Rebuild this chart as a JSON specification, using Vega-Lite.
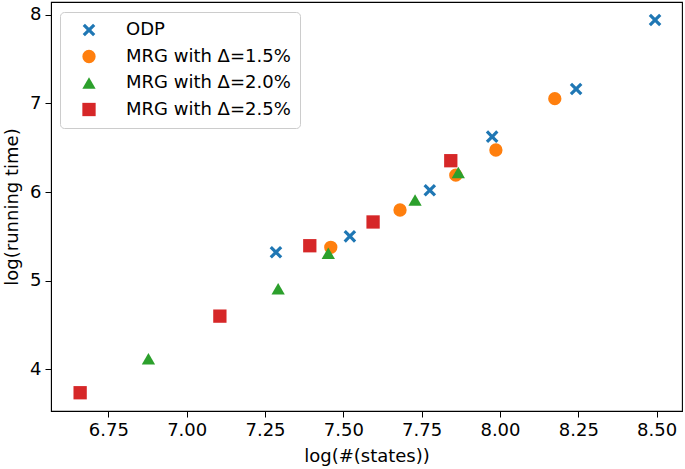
{
  "$schema": "https://vega.github.io/schema/vega-lite/v6.json",
  "width": 631,
  "height": 409,
  "autosize": "none",
  "padding": {"left": 51, "top": 2, "right": 3, "bottom": 58},
  "background": "white",
  "config": {
    "view": {"stroke": "black", "strokeWidth": 1.1},
    "font": "DejaVu Sans",
    "axis": {
      "grid": false,
      "domainColor": "black",
      "tickColor": "black",
      "labelColor": "black",
      "titleColor": "black",
      "labelFontSize": 18,
      "titleFontSize": 18,
      "titleFontWeight": "normal",
      "tickSize": 6,
      "labelPadding": 4,
      "labelFont": "DejaVu Sans",
      "titleFont": "DejaVu Sans"
    }
  },
  "data": {
    "values": [
      {"x": 7.285, "y": 5.32, "series": "ODP"},
      {"x": 7.521, "y": 5.50, "series": "ODP"},
      {"x": 7.776, "y": 6.02, "series": "ODP"},
      {"x": 7.975, "y": 6.624, "series": "ODP"},
      {"x": 8.243, "y": 7.162, "series": "ODP"},
      {"x": 8.495, "y": 7.94, "series": "ODP"},
      {"x": 7.46, "y": 5.376, "series": "MRG with Δ=1.5%"},
      {"x": 7.681, "y": 5.797, "series": "MRG with Δ=1.5%"},
      {"x": 7.859, "y": 6.19, "series": "MRG with Δ=1.5%"},
      {"x": 7.987, "y": 6.474, "series": "MRG with Δ=1.5%"},
      {"x": 8.175, "y": 7.053, "series": "MRG with Δ=1.5%"},
      {"x": 6.878, "y": 4.12, "series": "MRG with Δ=2.0%"},
      {"x": 7.292, "y": 4.91, "series": "MRG with Δ=2.0%"},
      {"x": 7.452, "y": 5.31, "series": "MRG with Δ=2.0%"},
      {"x": 7.729, "y": 5.91, "series": "MRG with Δ=2.0%"},
      {"x": 7.867, "y": 6.22, "series": "MRG with Δ=2.0%"},
      {"x": 6.66, "y": 3.736, "series": "MRG with Δ=2.5%"},
      {"x": 7.106, "y": 4.60, "series": "MRG with Δ=2.5%"},
      {"x": 7.393, "y": 5.394, "series": "MRG with Δ=2.5%"},
      {"x": 7.595, "y": 5.662, "series": "MRG with Δ=2.5%"},
      {"x": 7.843, "y": 6.353, "series": "MRG with Δ=2.5%"}
    ]
  },
  "mark": {"type": "point", "filled": true, "opacity": 1, "size": 177, "strokeWidth": 0},
  "encoding": {
    "x": {
      "field": "x", "type": "quantitative",
      "scale": {"domain": [6.567, 8.581], "nice": false, "zero": false},
      "axis": {"title": "log(#(states))", "values": [6.75, 7.0, 7.25, 7.5, 7.75, 8.0, 8.25, 8.5], "format": ".2f", "titlePadding": 8}
    },
    "y": {
      "field": "y", "type": "quantitative",
      "scale": {"domain": [3.53, 8.143], "nice": false, "zero": false},
      "axis": {"title": "log(running time)", "values": [4, 5, 6, 7, 8], "format": "d", "titlePadding": 8}
    },
    "color": {
      "field": "series", "type": "nominal",
      "scale": {
        "domain": ["ODP", "MRG with Δ=1.5%", "MRG with Δ=2.0%", "MRG with Δ=2.5%"],
        "range": ["#1f77b4", "#ff7f0e", "#2ca02c", "#d62728"]
      },
      "legend": {
        "title": null,
        "orient": "none",
        "legendX": 9,
        "legendY": 10,
        "padding": 9,
        "symbolOffset": 11,
        "labelOffset": 28,
        "labelFontSize": 18,
        "labelLimit": 400,
        "labelFont": "DejaVu Sans",
        "labelColor": "black",
        "rowPadding": 8.5,
        "symbolSize": 177,
        "symbolStrokeWidth": 0,
        "fillColor": "rgba(255,255,255,0.8)",
        "strokeColor": "#cccccc",
        "cornerRadius": 4
      }
    },
    "shape": {
      "field": "series", "type": "nominal",
      "scale": {
        "domain": ["ODP", "MRG with Δ=1.5%", "MRG with Δ=2.0%", "MRG with Δ=2.5%"],
        "range": ["M0.61,-0.95L0.95,-0.61L0.34,0L0.95,0.61L0.61,0.95L0,0.34L-0.61,0.95L-0.95,0.61L-0.34,0L-0.95,-0.61L-0.61,-0.95L0,-0.34Z", "circle", "triangle-up", "square"]
      }
    }
  }
}
